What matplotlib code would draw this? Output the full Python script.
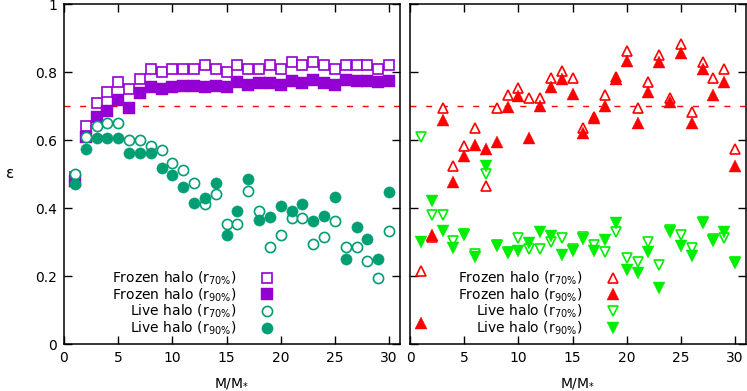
import matplotlib
matplotlib.use("Agg")
import matplotlib.pyplot as plt

plt.rcParams['font.family'] = ['DejaVu Sans']
plt.rcParams['mathtext.default'] = 'regular'

# ---------------- data ----------------
mass = list(range(1, 31))

# left panel (halo shapes, squares/circles)
frozen70_left = [0.49, 0.64, 0.71, 0.74, 0.77, 0.75, 0.78, 0.81, 0.80, 0.81,
                 0.81, 0.81, 0.82, 0.81, 0.80, 0.82, 0.81, 0.81, 0.82, 0.81,
                 0.83, 0.82, 0.83, 0.82, 0.81, 0.82, 0.82, 0.82, 0.81, 0.82]
frozen90_left = [0.48, 0.61, 0.667, 0.686, 0.718, 0.693, 0.737, 0.757, 0.749, 0.755,
                 0.759, 0.759, 0.757, 0.759, 0.755, 0.771, 0.763, 0.767, 0.767, 0.761,
                 0.775, 0.767, 0.777, 0.767, 0.761, 0.777, 0.775, 0.775, 0.771, 0.773]
live70_left = [0.50, 0.61, 0.641, 0.649, 0.649, 0.60, 0.60, 0.582, 0.571, 0.531,
               0.512, 0.473, 0.412, 0.441, 0.353, 0.353, 0.451, 0.392, 0.284, 0.322,
               0.372, 0.372, 0.293, 0.314, 0.363, 0.284, 0.284, 0.245, 0.195, 0.333]
live90_left = [0.47, 0.575, 0.605, 0.605, 0.605, 0.561, 0.561, 0.563, 0.517, 0.497,
               0.463, 0.414, 0.428, 0.473, 0.321, 0.391, 0.485, 0.365, 0.374, 0.406,
               0.392, 0.412, 0.363, 0.376, 0.433, 0.249, 0.345, 0.309, 0.25, 0.448]

# right panel (triangles)
frozen70_right = [0.216, 0.315, 0.693, 0.524, 0.583, 0.634, 0.466, 0.693, 0.732, 0.752,
                  0.723, 0.723, 0.781, 0.803, 0.781, 0.634, 0.669, 0.732, 0.785, 0.862,
                  0.693, 0.772, 0.85, 0.723, 0.881, 0.683, 0.83, 0.781, 0.81, 0.574]
frozen90_right = [0.063, 0.322, 0.659, 0.477, 0.554, 0.585, 0.574, 0.595, 0.696, 0.729,
                  0.607, 0.70, 0.755, 0.779, 0.735, 0.62, 0.664, 0.70, 0.779, 0.832,
                  0.649, 0.742, 0.83, 0.713, 0.855, 0.649, 0.81, 0.732, 0.772, 0.524]
live70_right = [0.61, 0.379, 0.379, 0.303, 0.325, 0.265, 0.50, 0.292, 0.272, 0.311,
                0.279, 0.279, 0.301, 0.311, 0.28, 0.315, 0.291, 0.271, 0.33, 0.252,
                0.242, 0.301, 0.232, 0.334, 0.321, 0.281, 0.36, 0.308, 0.311, 0.242]
live90_right = [0.301, 0.422, 0.333, 0.281, 0.322, 0.257, 0.524, 0.289, 0.269, 0.274,
                0.296, 0.33, 0.318, 0.262, 0.275, 0.31, 0.275, 0.305, 0.357, 0.218,
                0.21, 0.271, 0.164, 0.33, 0.289, 0.258, 0.357, 0.304, 0.33, 0.239]

labels = ['Frozen halo (r$_{70\\%}$)', 'Frozen halo (r$_{90\\%}$)',
          'Live halo (r$_{70\\%}$)', 'Live halo (r$_{90\\%}$)']
xticks = [0, 5, 10, 15, 20, 25, 30]
yticks = [0, 0.2, 0.4, 0.6, 0.8, 1.0]
yticklabels = ['0', '0.2', '0.4', '0.6', '0.8', '1']
threshold = 0.7

# ---------------- figure ----------------
W, H = 747, 391
fig = plt.figure(figsize=(W / 100, H / 100), dpi=100)
axL = fig.add_axes([64 / W, 1 - 344 / H, 336 / W, 340 / H])
axR = fig.add_axes([410 / W, 1 - 344 / H, 336 / W, 340 / H])

purple = '#9400D3'
teal = '#009E73'
red = '#FF0000'
lime = '#00EE00'

ms = 7.3
mew = 1.2

axL.plot(mass, frozen70_left, ls='none', marker='s', ms=ms, mfc='white', mec=purple, mew=mew, label=labels[0])
axL.plot(mass, frozen90_left, ls='none', marker='s', ms=ms + 1.2, mfc=purple, mec=purple, mew=0.3, label=labels[1])
axL.plot(mass, live70_left, ls='none', marker='o', ms=ms, mfc='white', mec=teal, mew=mew, label=labels[2])
axL.plot(mass, live90_left, ls='none', marker='o', ms=ms + 0.8, mfc=teal, mec=teal, mew=0.3, label=labels[3])

axR.plot(mass, frozen70_right, ls='none', marker='^', ms=ms + 0.5, mfc='white', mec=red, mew=mew, label=labels[0])
axR.plot(mass, frozen90_right, ls='none', marker='^', ms=ms + 1.0, mfc=red, mec=red, mew=0.3, label=labels[1])
axR.plot(mass, live70_right, ls='none', marker='v', ms=ms + 0.5, mfc='white', mec=lime, mew=mew, label=labels[2])
axR.plot(mass, live90_right, ls='none', marker='v', ms=ms + 1.0, mfc=lime, mec=lime, mew=0.3, label=labels[3])

for ax in (axL, axR):
    ax.axhline(threshold, color=red, lw=1.0, dashes=(4.3, 7), zorder=1)
    ax.set_xlim(0, 31)
    ax.set_ylim(0, 1)
    ax.set_xticks(xticks)
    ax.set_yticks(yticks)
    for s in ax.spines.values():
        s.set_linewidth(1.1)
    ax.tick_params(axis='both', direction='in', length=6, width=1.0,
                   top=True, right=True, labelsize=10, pad=5)
    ax.set_xlabel('M/M$_{*}$', fontsize=10, labelpad=8)
    leg = ax.legend(loc='lower right', bbox_to_anchor=(0.646, 0.0),
                    frameon=False, markerfirst=False, handlelength=1.0,
                    handletextpad=1.7, labelspacing=-0.05, borderpad=0,
                    fontsize=10)

axL.set_yticklabels(yticklabels)
axR.tick_params(axis='y', labelleft=False)
axL.set_ylabel('ε', rotation=0, fontsize=11, va='center')
axL.yaxis.set_label_coords(-0.16, 0.5)

fig.savefig('out.png', dpi=100)
